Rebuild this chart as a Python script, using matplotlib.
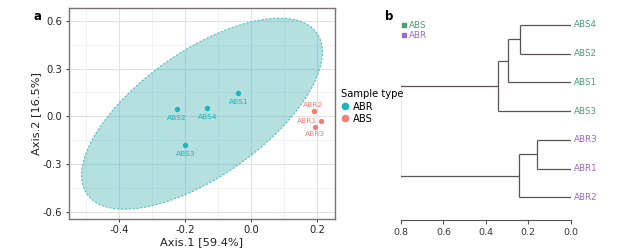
import numpy as np
import matplotlib
matplotlib.use("Agg")
import matplotlib.pyplot as plt
from matplotlib.lines import Line2D
from matplotlib.patches import Polygon

# ---------------- data ----------------
# Panel a: PCoA
abs_names = ["ABS1", "ABS2", "ABS4", "ABS3"]
abs_x = [-0.038, -0.225, -0.132, -0.199]
abs_y = [0.144, 0.048, 0.052, -0.178]
abr_names = ["ABR2", "ABR1", "ABR3"]
abr_x = [0.191, 0.211, 0.195]
abr_y = [0.033, -0.030, -0.067]
xticks_a = [-0.4, -0.2, 0.0, 0.2]
yticks_a = [-0.6, -0.3, 0.0, 0.3, 0.6]
xlabel_a = "Axis.1 [59.4%]"
ylabel_a = "Axis.2 [16.5%]"
legend_title = "Sample type"
legend_labels = ["ABR", "ABS"]

# Panel b: dendrogram (leaf order top to bottom)
leaf_labels = ["ABS4", "ABS2", "ABS1", "ABS3", "ABR3", "ABR1", "ABR2"]
leaf_group = ["ABS", "ABS", "ABS", "ABS", "ABR", "ABR", "ABR"]
# merges: (child_a, child_b, height); new nodes numbered after leaves
merge_a = [0, 7, 8, 4, 10, 9]
merge_b = [1, 2, 3, 5, 6, 11]
merge_h = [0.237, 0.297, 0.344, 0.157, 0.242, 0.805]
xticks_b = [0.8, 0.6, 0.4, 0.2, 0.0]

# ---------------- style ----------------
teal = "#1bb6b9"
salmon = "#f07f78"
green = "#4c9c76"
purple = "#9a6bbf"
border = "#7a7272"
tree_col = "#5b5353"

W, H = 636, 249
fig = plt.figure(figsize=(W / 100, H / 100), dpi=100)

def box(l, t, r, b):
    return [l / W, 1 - b / H, (r - l) / W, (b - t) / H]

# ---------------- panel a ----------------
ax = fig.add_axes(box(68.5, 8.5, 334.5, 219))
ax.set_xlim(-0.553, 0.253)
ax.set_ylim(-0.644, 0.6765)
ax.set_xticks(xticks_a)
ax.set_yticks(yticks_a)
ax.set_xticklabels([f"{v:.1f}" for v in xticks_a])
ax.set_yticklabels([f"{v:.1f}" for v in yticks_a])
ax.set_xticks([-0.5, -0.3, -0.1, 0.1], minor=True)
ax.set_yticks([-0.45, -0.15, 0.15, 0.45], minor=True)
ax.grid(True, which="major", color="#e4e0e0", lw=0.8)
ax.grid(True, which="minor", color="#efecec", lw=0.5)
ax.set_axisbelow(True)
ax.tick_params(which="minor", length=0)
ax.tick_params(which="major", length=2.5, width=0.7, color="#333333",
               labelsize=7.2, labelcolor="#222222", pad=2)
for s in ax.spines.values():
    s.set_color(border)
    s.set_linewidth(1.0)
ax.set_xlabel(xlabel_a, fontsize=8.2, labelpad=1, color="#222222")
ax.set_ylabel(ylabel_a, fontsize=8.2, labelpad=1, color="#222222")

# 95% normal-theory ellipse of the ABS group (as ggplot stat_ellipse)
pts = np.column_stack([abs_x, abs_y])
center = pts.mean(axis=0)
cov = np.cov(pts.T)
qf_95_2_3 = 9.5521  # F quantile (0.95; 2, n-1=3)
radius = np.sqrt(2 * qf_95_2_3)
t = np.linspace(0, 2 * np.pi, 200)
unit = np.column_stack([np.cos(t), np.sin(t)])
chol = np.linalg.cholesky(cov).T
ell = center + radius * unit @ chol
ax.add_patch(Polygon(ell, closed=True, facecolor="#3aafb0", alpha=0.38,
                     edgecolor="none", zorder=1))
ax.add_patch(Polygon(ell, closed=True, facecolor="none", edgecolor="#52c0c2",
                     lw=0.8, ls=(0, (2, 1.5)), zorder=1.5))

ax.scatter(abs_x, abs_y, s=15, color=teal, zorder=3, linewidths=0)
ax.scatter(abr_x, abr_y, s=15, color=salmon, zorder=3, linewidths=0)

for nm, x, y in zip(abs_names, abs_x, abs_y):
    ax.annotate(nm, (x, y), xytext=(0, -6.5), textcoords="offset points",
                ha="center", va="center", fontsize=5.4, color=teal)
abr_off = {"ABR2": (-1, 4.5, "center"), "ABR1": (-2.5, 0, "right"),
           "ABR3": (0, -5, "center")}
for nm, x, y in zip(abr_names, abr_x, abr_y):
    dx, dy, ha = abr_off[nm]
    ax.annotate(nm, (x, y), xytext=(dx, dy), textcoords="offset points",
                ha=ha, va="center", fontsize=5.4, color=salmon)

fig.text(33 / W, 1 - 17 / H, "a", fontsize=8.5, fontweight="bold",
         ha="left", va="center")

handles = [Line2D([], [], marker="o", ls="none", color=teal, markersize=4.5),
           Line2D([], [], marker="o", ls="none", color=salmon, markersize=4.5)]
leg = fig.legend(handles, legend_labels, title=legend_title,
                 loc="upper left", bbox_to_anchor=(334 / W, 1 - 82 / H),
                 frameon=False, fontsize=7.2, title_fontsize=7.2,
                 handlelength=0.8, handletextpad=0.4, labelspacing=0.25,
                 borderpad=0.2, alignment="left")

# ---------------- panel b ----------------
nleaf = len(leaf_labels)
bx = fig.add_axes(box(401, 8, 570.7, 220))
bx.set_xlim(0.8, 0.0)
bx.set_ylim(0.21, 7.59)
ypos = {i: nleaf - i for i in range(nleaf)}
hpos = {i: 0.0 for i in range(nleaf)}
node = nleaf
for a, b, h in zip(merge_a, merge_b, merge_h):
    for c in (a, b):
        bx.plot([hpos[c], h], [ypos[c], ypos[c]], color=tree_col, lw=0.9,
                solid_capstyle="butt")
    bx.plot([h, h], [ypos[a], ypos[b]], color=tree_col, lw=0.9,
            solid_capstyle="butt")
    ypos[node] = (ypos[a] + ypos[b]) / 2
    hpos[node] = h
    node += 1
for i, (lab, g) in enumerate(zip(leaf_labels, leaf_group)):
    bx.annotate(lab, (0.0, ypos[i]), xytext=(2, 0), textcoords="offset points",
                ha="left", va="center", fontsize=6.3,
                color=green if g == "ABS" else purple, annotation_clip=False)

for s in ["top", "right", "left"]:
    bx.spines[s].set_visible(False)
bx.spines["bottom"].set_color("#555555")
bx.spines["bottom"].set_linewidth(0.8)
bx.spines["bottom"].set_bounds(0.8, 0.0)
bx.set_yticks([])
bx.set_xticks(xticks_b)
bx.set_xticklabels([f"{v:.1f}" for v in xticks_b])
bx.tick_params(axis="x", length=3, width=0.8, color="#555555",
               labelsize=6.8, labelcolor="#333333", pad=3)
bx.patch.set_visible(False)

fig.text(385 / W, 1 - 17 / H, "b", fontsize=8.5, fontweight="bold",
         ha="left", va="center")

h2 = [Line2D([], [], marker="s", ls="none", color=green, markersize=3.4),
      Line2D([], [], marker="s", ls="none", color=purple, markersize=3.4)]
leg2 = fig.legend(h2, ["ABS", "ABR"], loc="upper left",
                  bbox_to_anchor=(398 / W, 1 - 17 / H), frameon=False,
                  fontsize=6.3, handlelength=0.4, handletextpad=0.3,
                  labelspacing=0.1, borderpad=0.0)
for txt, c in zip(leg2.get_texts(), [green, purple]):
    txt.set_color(c)

fig.savefig("out.png", dpi=100)
